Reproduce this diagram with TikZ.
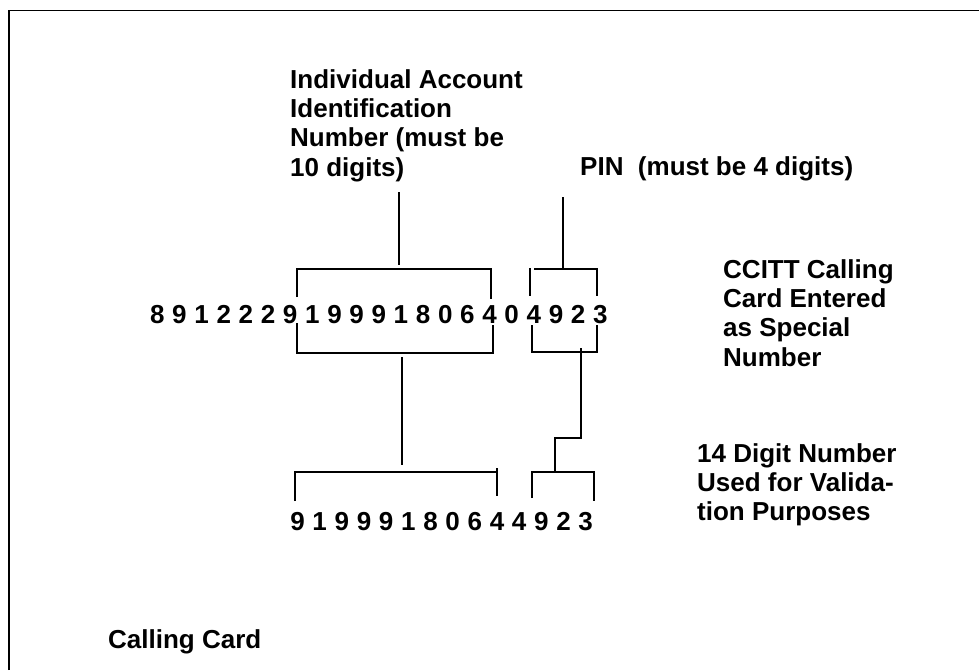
\documentclass[tikz,border=0pt]{standalone}
\usepackage{fontspec}
\setmainfont{Liberation Sans}
\newcommand\mystack[1]{\begin{tabular}[t]{@{}l@{}}#1\end{tabular}}
\begin{document}
\begin{tikzpicture}[x=1pt,y=-1pt,
  ln/.style={line width=1.8pt},
  lbl/.style={inner sep=0pt, anchor=base west, font=\bfseries\fontsize{26}{29.4}\selectfont},
  dg/.style={inner sep=0pt, anchor=base, font=\bfseries\fontsize{26}{29.4}\selectfont}]
\useasboundingbox (0,0) rectangle (979,670);
% frame
\draw[line width=1.5pt] (9,670) -- (9,10.5) -- (979,10.5);
% labels
\node[lbl] (acct) at (290,88) {\mystack{Individual Account\\Identification\\Number (must be\\10 digits)}};
\node[lbl] (pin) at (580,175) {PIN\ \ (must be 4 digits)};
\node[lbl] (ccitt) at (723,278) {\mystack{CCITT Calling\\Card Entered\\as Special\\Number}};
\node[lbl] (fourteen) at (697,462) {\mystack{14 Digit Number\\Used for Valida-\\tion Purposes}};
\node[lbl] (card) at (108,648) {Calling Card};
% digit rows
\foreach \d [count=\i] in {8,9,1,2,2,2,9,1,9,9,9,1,8,0,6,4,0,4,9,2,3}
  \node[dg] (t\i) at ({157.3+22.15*(\i-1)},323) {\d};
\foreach \d [count=\i] in {9,1,9,9,9,1,8,0,6,4,4,9,2,3}
  \node[dg] (b\i) at ({297.5+22.17*(\i-1)},530) {\d};
% coordinates
\coordinate (acctStemTop) at (399,192);
\coordinate (acctStemBot) at (399,265);
\coordinate (pinStemTop) at (563,197);
\coordinate (pinStemBot) at (563,269);
\coordinate (accLowStemTop) at (402,357);
\coordinate (accLowStemBot) at (402,465);
\coordinate (pinLowStemTop) at (581,348);
\coordinate (pinLowStemBot) at (555,472);
% account brackets (upper row)
\draw[ln] (acctStemTop) -- (acctStemBot);
\draw[ln] (297,297) -- (297,269) -- (491,269) -- (491,299);
\draw[ln] (297,323) -- (297,353) -- (493,353) -- (493,325);
\draw[ln] (accLowStemTop) -- (accLowStemBot);
% PIN brackets (upper row)
\draw[ln] (pinStemTop) -- (pinStemBot);
\draw[ln] (530,268) -- (530,296);
\draw[ln] (534,269) -- (597,269) -- (597,296);
\draw[ln] (532,325) -- (532,352) -- (597,352) -- (597,325);
\draw[ln] (pinLowStemTop) -- (581,438) -- (555,438) -- (pinLowStemBot);
% lower row brackets
\draw[ln] (295,501) -- (295,472) -- (497,472);
\draw[ln] (497,468) -- (497,496);
\draw[ln] (532,498) -- (532,472) -- (594,472) -- (594,501);
\end{tikzpicture}
\end{document}
